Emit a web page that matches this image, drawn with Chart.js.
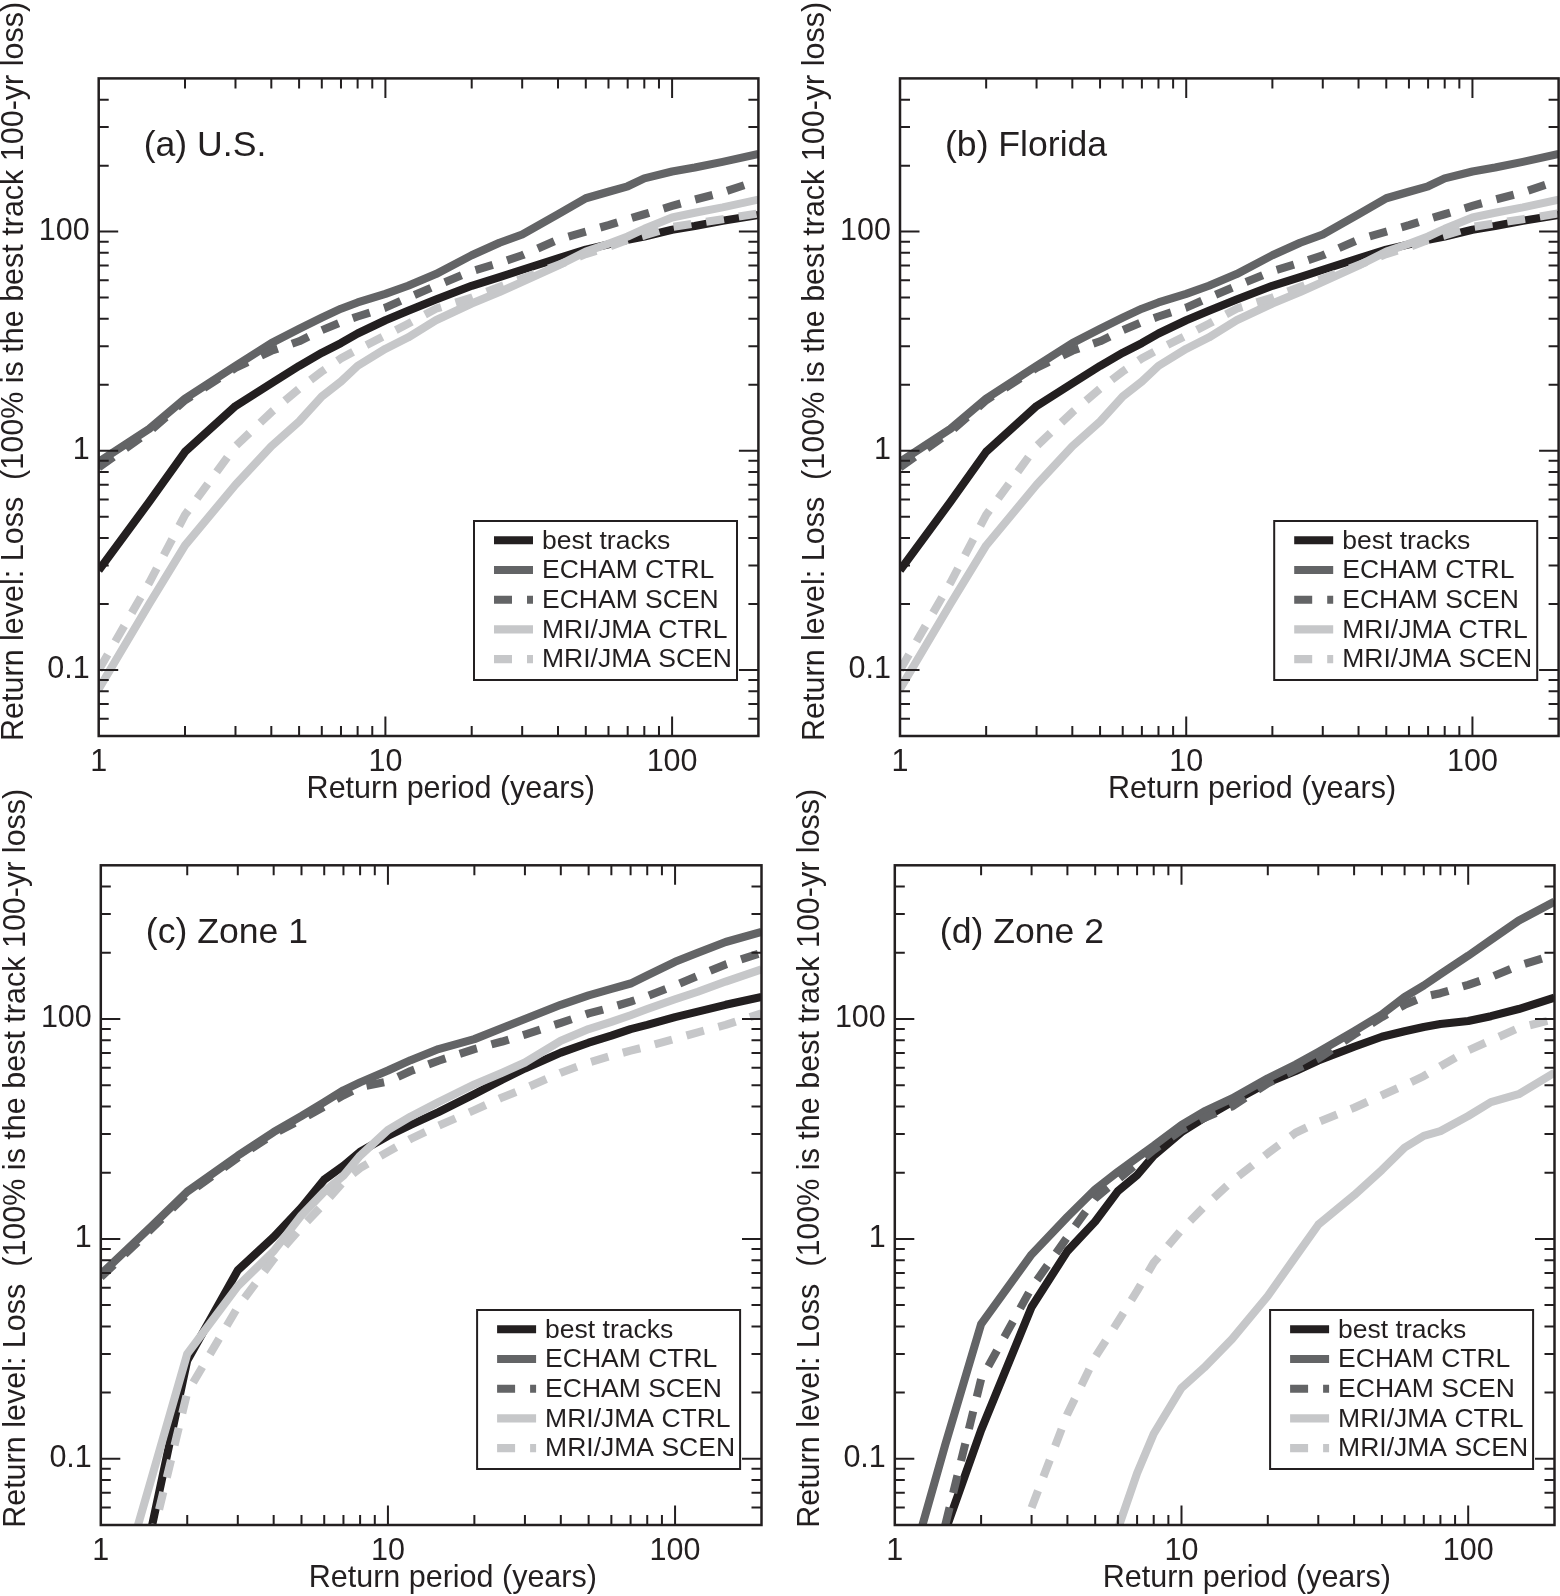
<!DOCTYPE html>
<html><head><meta charset="utf-8">
<script src="https://cdn.jsdelivr.net/npm/chart.js@4.4.1/dist/chart.umd.min.js"></script>
<style>
html,body{margin:0;padding:0;background:#fff;}
body{width:1560px;height:1596px;position:relative;overflow:hidden;}
canvas{position:absolute;}
</style></head><body>
<canvas id="ca" width="780" height="815" style="left:0;top:0"></canvas>
<canvas id="cb" width="780" height="815" style="left:780px;top:0"></canvas>
<canvas id="cc" width="780" height="816" style="left:0;top:780px"></canvas>
<canvas id="cd" width="780" height="816" style="left:780px;top:780px"></canvas>
<script>
// ---- data (return level in % of best-track 100-yr loss) ----
const returnPeriods = [1, 1.5, 2, 3, 4, 5, 6, 7, 8, 10, 12, 15, 20, 25, 30, 40, 50, 60, 70, 80, 100, 120, 150, 200];

const usBest      = [2.85, 5.85, 9.9, 16.0, 20.3, 24.4, 28, 31, 34.3, 39.4, 43.5, 49, 56.6, 62, 67, 75.5, 82.8, 87.5, 91.7, 95, 102, 106, 112, 119];
const usEchamCtrl = [8.9, 12.6, 17.3, 24.4, 31, 36, 40.5, 44.5, 47.5, 52, 56.6, 64, 78, 89, 97, 120, 142, 152, 161, 175, 188, 196, 208, 226];
const usEchamScen = [8.4, 12.2, 17, 23.9, 28.6, 31.6, 35.5, 38.6, 41, 45, 50, 56.6, 66, 72, 78, 92, 100, 107, 114, 120, 131, 140, 151, 171];
const usMriCtrl   = [0.82, 2.0, 3.7, 7.0, 10.5, 13.6, 17.7, 20.7, 24.4, 29.2, 32.9, 39.4, 47, 53, 59, 70, 81, 88, 95, 103, 116, 122, 129, 140];
const usMriScen   = [1.0, 2.5, 5.1, 10.5, 15, 19.2, 23, 26.4, 29, 33.6, 38, 44.5, 50, 56, 61, 70.4, 79, 85, 91.6, 96, 105, 109, 114, 121];

const flBest      = [2.85, 5.85, 9.9, 16.0, 20.3, 24.4, 28, 31, 34.3, 39.4, 43.5, 49, 56.6, 62, 67, 75.5, 82.8, 87.5, 91.7, 95, 102, 106, 112, 119];
const flEchamCtrl = [8.9, 12.6, 17.3, 24.4, 31, 36, 40.5, 44.5, 47.5, 52, 56.6, 64, 78, 89, 97, 120, 142, 152, 161, 175, 188, 196, 208, 226];
const flEchamScen = [8.4, 12.2, 17, 23.9, 28.6, 31.6, 35.5, 38.6, 41, 45, 50, 56.6, 66, 72, 78, 92, 100, 107, 114, 120, 131, 140, 151, 171];
const flMriCtrl   = [0.82, 2.0, 3.7, 7.0, 10.5, 13.6, 17.7, 20.7, 24.4, 29.2, 32.9, 39.4, 47, 53, 59, 70, 81, 88, 95, 103, 116, 122, 129, 140];
const flMriScen   = [1.0, 2.5, 5.1, 10.5, 15, 19.2, 23, 26.4, 29, 33.6, 38, 44.5, 50, 56, 61, 70.4, 79, 85, 91.6, 96, 105, 109, 114, 121];

const z1Best      = [null, 0.48, 2.8, 7.2, 10.2, 13.9, 18.6, 21.5, 24.9, 29.4, 33, 37.7, 45.5, 53, 59.6, 70.3, 78, 84, 90, 94, 102, 108, 116, 126];
const z1EchamCtrl = [6.9, 11.4, 16.4, 23.9, 30.6, 36.2, 41.9, 47.4, 51.5, 58.3, 65, 73, 81, 91, 100, 116, 128, 137, 145, 158, 182, 200, 224, 249];
const z1EchamScen = [6.7, 11.1, 16, 23.4, 30, 35, 40, 45, 49, 52, 58, 64.6, 73, 79, 85, 96, 106, 113, 120, 127, 142, 157, 177, 200];
const z1MriCtrl   = [0.13, 0.81, 3.0, 6.1, 8.8, 12.8, 16.4, 19.4, 23.9, 31.3, 36, 41.9, 50.4, 57, 63.4, 79.6, 90, 97, 104, 111, 123, 133, 148, 168];
const z1MriScen   = [null, 0.42, 2.0, 4.9, 8.1, 11.3, 14.5, 18.2, 21, 24.9, 28.5, 32.7, 38.5, 44, 48.4, 57, 63.4, 68, 71.8, 75, 81.3, 87, 94, 106];

const z2Best      = [null, 0.47, 1.35, 4.9, 8.8, 12, 16.5, 19.5, 23.9, 30.6, 35.5, 41.9, 51.5, 58, 64.7, 74.8, 83, 88, 92, 95, 98, 103, 111, 125];
const z2EchamCtrl = [0.18, 1.16, 4.1, 8.5, 12.6, 16.8, 20.2, 23.4, 26.5, 33, 38, 43.5, 53.7, 62, 70.8, 88, 105, 126, 142, 160, 194, 229, 280, 342];
const z2EchamScen = [null, 0.5, 2.3, 6.0, 10.2, 15.3, 18.6, 22, 25.4, 31.3, 35.5, 40, 51, 59, 66, 85, 102, 116, 126, 131, 143, 155, 175, 196];
const z2MriCtrl   = [null, null, null, null, null, null, 0.48, 0.86, 1.3, 2.1, 2.6, 3.5, 5.5, 8.3, 11.6, 15.8, 20.6, 26, 29.4, 30.9, 36.2, 41.9, 45.5, 57];
const z2MriScen   = [null, null, null, 0.6, 1.6, 2.9, 4.2, 5.8, 7.8, 11, 14, 18.3, 24.5, 30.4, 34, 39.5, 45, 50, 55, 61, 72, 80, 91, 100];

const seriesNames = ['best tracks', 'ECHAM CTRL', 'ECHAM SCEN', 'MRI/JMA CTRL', 'MRI/JMA SCEN'];
const panelTitles = ['(a) U.S.', '(b) Florida', '(c) Zone 1', '(d) Zone 2'];
const xTickValues = [1, 10, 100];
const xTickLabels = ['1', '10', '100'];
const yTickValues = [1, 10, 100];
const yTickLabels = ['0.1', '1', '100'];
const xTitle = 'Return period (years)';
const yTitle = 'Return level: Loss  (100% is the best track 100-yr loss)';

// ---- styles ----
const FONT = "'Liberation Sans', Arial, Helvetica, sans-serif";
const INK = '#231f20';
const seriesColors = ['#231f20', '#636466', '#636466', '#c6c7c9', '#c6c7c9'];
const seriesDash = [[], [], [18, 15], [], [18, 15]];
const LINE_W = 8.1;
const W = 780;

const decorPlugin = {
  id: 'decor',
  afterDraw(chart, args, opts) {
    const { ctx, chartArea: a, scales: { x, y } } = chart;
    ctx.save();
    ctx.strokeStyle = INK;
    ctx.lineCap = 'butt';
    const tick = (px, len, horiz) => {
      ctx.beginPath();
      if (horiz) {
        ctx.moveTo(px, a.bottom); ctx.lineTo(px, a.bottom - len);
        ctx.moveTo(px, a.top); ctx.lineTo(px, a.top + len);
      } else {
        ctx.moveTo(a.left, px); ctx.lineTo(a.left + len, px);
        ctx.moveTo(a.right, px); ctx.lineTo(a.right - len, px);
      }
      ctx.stroke();
    };
    ctx.lineWidth = 2;
    for (const d of [1, 10, 100, 1000]) {
      for (let k = 1; k <= 9; k++) {
        const v = k * d;
        if (v > x.min * 1.0001 && v < x.max * 0.9999) tick(x.getPixelForValue(v), k === 1 ? 19.5 : 10, true);
      }
    }
    for (const d of [0.1, 1, 10, 100]) {
      for (let k = 1; k <= 9; k++) {
        const v = k * d;
        if (v > y.min * 1.0001 && v < y.max * 0.9999) tick(y.getPixelForValue(v), k === 1 ? 19.5 : 10, false);
      }
    }
    ctx.lineWidth = 2.5;
    ctx.strokeRect(a.left, a.top, a.right - a.left, a.bottom - a.top);

    // axis titles
    ctx.fillStyle = INK;
    ctx.font = '30.5px ' + FONT;
    ctx.textAlign = 'center';
    ctx.textBaseline = 'middle';
    ctx.fillText(xTitle, a.left + 352, a.bottom + 54);
    ctx.save();
    ctx.translate(a.left - 84.5, a.top + 293);
    ctx.rotate(-Math.PI / 2);
    ctx.fillText(yTitle, 0, 0);
    ctx.restore();

    // panel label
    ctx.textAlign = 'left';
    ctx.textBaseline = 'alphabetic';
    ctx.font = '35.6px ' + FONT;
    ctx.fillText(opts.title, a.left + 45, a.top + 78);

    // legend
    const bw = 263, bh = 159;
    const bx = a.right - 21.4 - bw, by = a.bottom - 56 - bh;
    ctx.fillStyle = '#fff';
    ctx.fillRect(bx, by, bw, bh);
    ctx.lineWidth = 2;
    ctx.strokeStyle = INK;
    ctx.strokeRect(bx, by, bw, bh);
    ctx.font = '26.5px ' + FONT;
    ctx.textBaseline = 'middle';
    chart.data.datasets.forEach((ds, i) => {
      const ry = by + 19.3 + i * 29.7;
      ctx.beginPath();
      ctx.strokeStyle = ds.borderColor;
      ctx.lineWidth = LINE_W;
      ctx.setLineDash(ds.borderDash || []);
      ctx.moveTo(bx + 20, ry);
      ctx.lineTo(bx + 59, ry);
      ctx.stroke();
      ctx.setLineDash([]);
      ctx.fillStyle = INK;
      ctx.fillText(ds.label, bx + 68, ry + 1);
    });
    ctx.restore();
  }
};

function makeChart(id, title, seriesValues, area, H) {
  const datasets = seriesValues.map((vals, i) => ({
    label: seriesNames[i],
    data: returnPeriods.map((t, j) => ({ x: t, y: vals[j] })),
    borderColor: seriesColors[i],
    backgroundColor: seriesColors[i],
    borderWidth: LINE_W,
    borderDash: seriesDash[i],
    borderCapStyle: 'butt',
    borderJoinStyle: 'round',
    pointRadius: 0,
    tension: 0,
    fill: false,
    spanGaps: false,
    clip: 0,
    order: seriesValues.length - 1 - i
  }));
  return new Chart(document.getElementById(id), {
    type: 'line',
    data: { datasets },
    plugins: [decorPlugin],
    options: {
      responsive: false,
      animation: false,
      devicePixelRatio: 1,
      layout: { padding: { left: 0, top: area.top, right: W - area.right, bottom: 0 } },
      plugins: { legend: { display: false }, tooltip: { enabled: false }, decor: { title } },
      scales: {
        x: {
          type: 'logarithmic', min: 1, max: 200, position: 'bottom',
          afterBuildTicks: s => { s.ticks = xTickValues.map(v => ({ value: v })); },
          afterFit: s => { s.height = H - area.bottom; },
          grid: { display: false, drawTicks: false },
          border: { display: false },
          ticks: {
            autoSkip: false, maxRotation: 0, padding: 8, color: INK,
            font: { family: FONT, size: 30.5 },
            callback: (v) => { const k = xTickValues.indexOf(v); return k >= 0 ? xTickLabels[k] : ''; }
          }
        },
        y: {
          type: 'logarithmic', min: 0.5, max: 500, position: 'left',
          afterBuildTicks: s => { s.ticks = yTickValues.map(v => ({ value: v })); },
          afterFit: s => { s.width = area.left; },
          grid: { display: false, drawTicks: false },
          border: { display: false },
          ticks: {
            autoSkip: false, padding: 9, color: INK,
            font: { family: FONT, size: 30.5 },
            callback: (v) => { const k = yTickValues.indexOf(v); return k >= 0 ? yTickLabels[k] : ''; }
          }
        }
      }
    }
  });
}

makeChart('ca', panelTitles[0], [usBest, usEchamCtrl, usEchamScen, usMriCtrl, usMriScen], { left: 98.7, top: 78.4, right: 758.4, bottom: 736 }, 815);
makeChart('cb', panelTitles[1], [flBest, flEchamCtrl, flEchamScen, flMriCtrl, flMriScen], { left: 120, top: 78.4, right: 778.6, bottom: 736 }, 815);
makeChart('cc', panelTitles[2], [z1Best, z1EchamCtrl, z1EchamScen, z1MriCtrl, z1MriScen], { left: 100.8, top: 85.3, right: 761.5, bottom: 745 }, 816);
makeChart('cd', panelTitles[3], [z2Best, z2EchamCtrl, z2EchamScen, z2MriCtrl, z2MriScen], { left: 114.8, top: 85.3, right: 774.5, bottom: 745 }, 816);
</script>
</body></html>
